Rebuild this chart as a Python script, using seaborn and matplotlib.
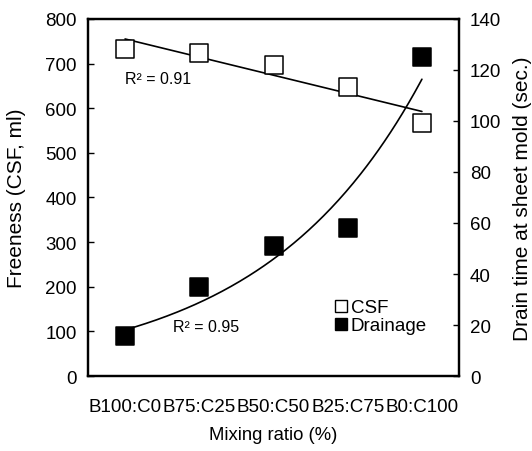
import numpy as np
import pandas as pd
import matplotlib
matplotlib.use("Agg")
import matplotlib.pyplot as plt
import seaborn as sns
from matplotlib.lines import Line2D

# ---- data ----
categories = ["B100:C0", "B75:C25", "B50:C50", "B25:C75", "B0:C100"]
csf = [733, 724, 697, 648, 568]          # Freeness (CSF, ml)
drainage = [15.7, 35, 51, 58, 125]       # Drain time at sheet mold (sec.)
r2_csf = "R² = 0.91"
r2_drain = "R² = 0.95"

sns.set_style("white")
plt.rcParams['font.family'] = ['Liberation Sans', 'DejaVu Sans']
plt.rcParams['text.color'] = 'black'
plt.rcParams['axes.labelcolor'] = 'black'
plt.rcParams['xtick.color'] = 'black'
plt.rcParams['ytick.color'] = 'black'

pos = np.arange(len(categories))
df = pd.DataFrame({"pos": pos, "cat": categories, "csf": csf, "drainage": drainage})

fig = plt.figure(figsize=(5.32, 4.52), dpi=100)
ax = fig.add_axes([0.1654, 0.1659, 0.6974, 0.7899])
ax2 = ax.twinx()

sns.scatterplot(data=df, x="pos", y="csf", ax=ax, marker="s", s=170,
                facecolor="white", edgecolor="black", linewidth=1.1, zorder=3, legend=False)
sns.scatterplot(data=df, x="pos", y="drainage", ax=ax2, marker="s", s=170,
                color="black", edgecolor="black", linewidth=1.1, zorder=3, legend=False)

# fits
xs = np.linspace(0, 4, 200)
k, b = np.polyfit(pos, csf, 1)
ax.plot(xs, k * xs + b, color="black", lw=1.2, zorder=2)
k2, b2 = np.polyfit(pos, np.log(drainage), 1)
ax2.plot(xs, np.exp(b2 + k2 * xs), color="black", lw=1.2, zorder=2)

ax.set_xlim(-0.5, 4.5)
ax.set_ylim(0, 800)
ax2.set_ylim(0, 140)
ax.set_yticks(np.arange(0, 801, 100))
ax2.set_yticks(np.arange(0, 141, 20))

ax.set_xticks(pos)
ax.set_xticklabels(categories, fontsize=13.5)
ax.tick_params(axis="x", which="major", length=0, pad=16)
ax.set_xticks([0.5, 1.5, 2.5, 3.5], minor=True)
ax.tick_params(axis="x", which="minor", direction="in", length=6, width=1.2)
ax.tick_params(axis="y", direction="in", length=4, width=1.0, labelsize=13.5, pad=8)
ax2.tick_params(axis="y", direction="in", length=4, width=1.0, labelsize=13.5, pad=8)

for a in (ax, ax2):
    for s in a.spines.values():
        s.set_linewidth(1.6)
        s.set_color("black")
        s.set_visible(True)

ax.set_xlabel("Mixing ratio (%)", fontsize=13.3, labelpad=8)
ax.set_ylabel("Freeness (CSF, ml)", fontsize=15, labelpad=14)
ax2.set_ylabel("Drain time at sheet mold (sec.)", fontsize=15, labelpad=8)

ax.text(0.0, 666, r2_csf, fontsize=11.5, va="center", ha="left")
ax.text(0.65, 112, r2_drain, fontsize=11.5, va="center", ha="left")

handles = [Line2D([], [], marker="s", ls="", mfc="white", mec="black", ms=9, mew=1.0),
           Line2D([], [], marker="s", ls="", mfc="black", mec="black", ms=9, mew=1.0)]
ax.legend(handles, ["CSF", "Drainage"], loc="upper left", bbox_to_anchor=(0.665, 0.215),
          frameon=False, handlelength=0.7, handletextpad=0.15, labelspacing=0.05,
          borderpad=0, borderaxespad=0, fontsize=13.5)

fig.savefig("out.png", dpi=100)
